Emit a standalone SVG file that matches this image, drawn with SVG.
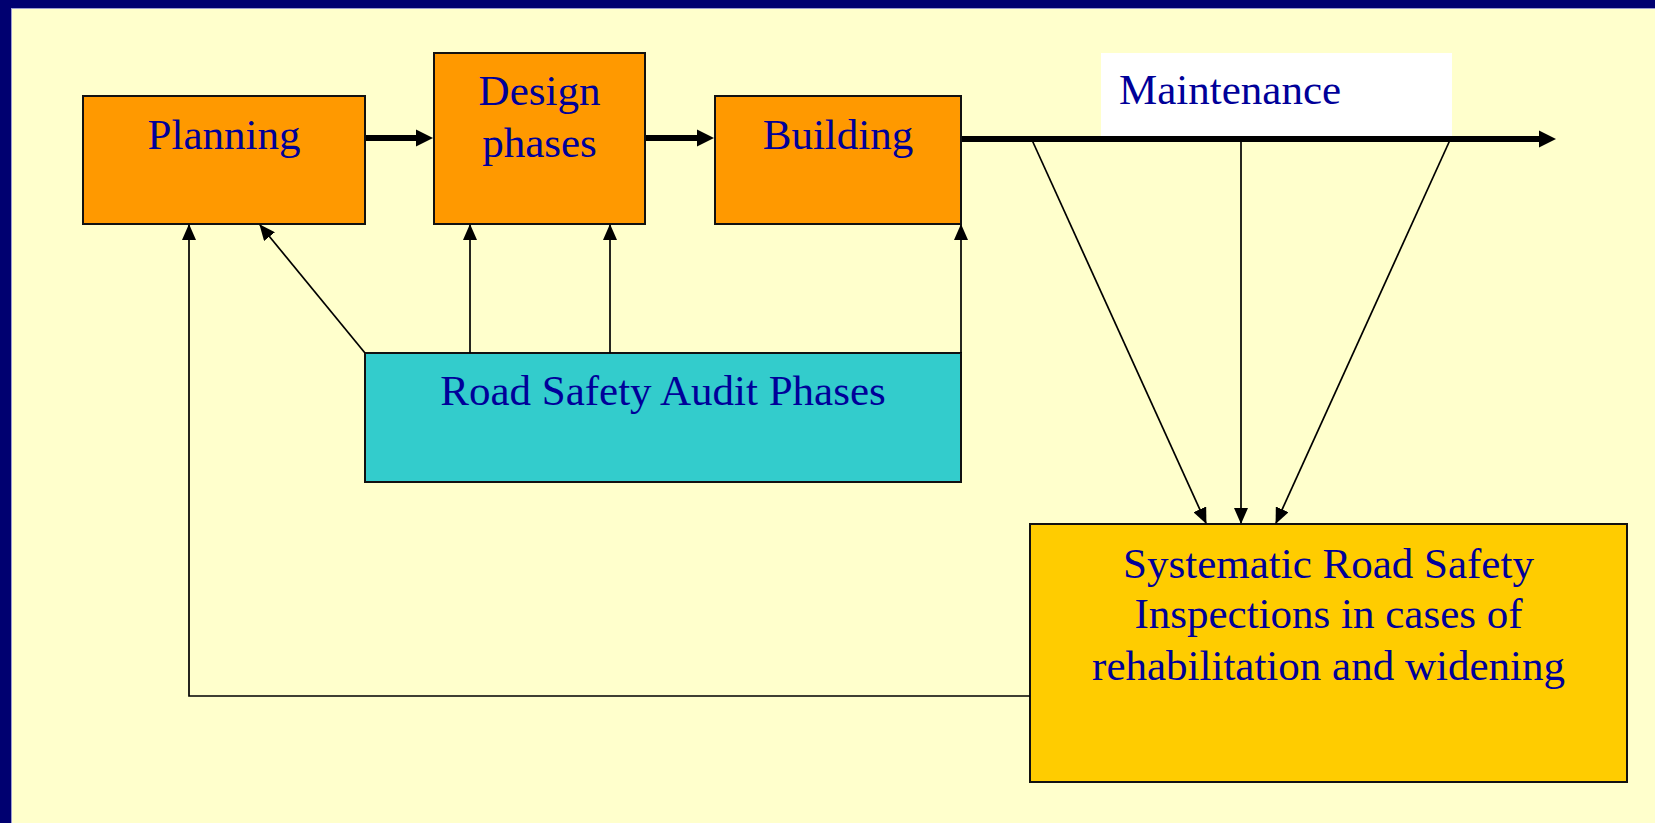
<svg xmlns="http://www.w3.org/2000/svg" width="1655" height="823" viewBox="0 0 1655 823">
  <style>
    .box { stroke: #111; stroke-width: 2; }
    .lbl { font-family: "Liberation Serif", "Times New Roman", serif; font-size: 43px; fill: #000099; }
    .mid { text-anchor: middle; }
    .thin { fill: none; stroke: #000; stroke-width: 1.7; marker-end: url(#arrowThin); }
    .thick { fill: none; stroke: #000; stroke-width: 6; marker-end: url(#arrowThick); }
  </style>
  <defs>
    <marker id="arrowThin" markerUnits="userSpaceOnUse" markerWidth="16" markerHeight="14" refX="15" refY="7" orient="auto">
      <path d="M0,0 L16,7 L0,14 Z" fill="#000"/>
    </marker>
    <marker id="arrowThick" markerUnits="userSpaceOnUse" markerWidth="18" markerHeight="18" refX="7" refY="9" orient="auto">
      <path d="M0,0.5 L17,9 L0,17.5 Z" fill="#000"/>
    </marker>
  </defs>

  <!-- slide frame -->
  <rect x="0" y="0" width="1655" height="823" fill="#000070"/>
  <rect x="11" y="8" width="1644" height="815" fill="#9C9CD0"/>
  <rect x="12" y="9" width="1643" height="814" fill="#FFFFCC"/>

  <!-- Maintenance label backdrop -->
  <g id="maintenance">
    <rect x="1101" y="53" width="351" height="84" fill="#FFFFFF"/>
    <text class="lbl" x="1119" y="104">Maintenance</text>
  </g>

  <g id="planning">
    <rect class="box" x="83" y="96" width="282" height="128" fill="#FF9900"/>
    <text class="lbl mid" x="224" y="149">Planning</text>
  </g>

  <g id="design">
    <rect class="box" x="434" y="53" width="211" height="171" fill="#FF9900"/>
    <text class="lbl mid" x="539.5" y="105">Design</text>
    <text class="lbl mid" x="539.5" y="157">phases</text>
  </g>

  <g id="building">
    <rect class="box" x="715" y="96" width="246" height="128" fill="#FF9900"/>
    <text class="lbl mid" x="838" y="149">Building</text>
  </g>

  <g id="audit">
    <rect class="box" x="365" y="353" width="596" height="129" fill="#33CCCC"/>
    <text class="lbl mid" x="663" y="405">Road Safety Audit Phases</text>
  </g>

  <g id="inspections">
    <rect class="box" x="1030" y="524" width="597" height="258" fill="#FFCC00"/>
    <text class="lbl mid" x="1328.5" y="578">Systematic Road Safety</text>
    <text class="lbl mid" x="1328.5" y="628">Inspections in cases of</text>
    <text class="lbl mid" x="1328.5" y="680">rehabilitation and widening</text>
  </g>

  <g id="connectors">
    <!-- main sequence -->
    <line class="thick" x1="366" y1="138" x2="423" y2="138"/>
    <line class="thick" x1="646" y1="138" x2="704" y2="138"/>
    <line class="thick" x1="962" y1="139" x2="1546" y2="139"/>
    <!-- maintenance to inspections -->
    <line class="thin" x1="1032" y1="140" x2="1206" y2="523"/>
    <line class="thin" x1="1241" y1="140" x2="1241" y2="523"/>
    <line class="thin" x1="1450" y1="140" x2="1276" y2="523"/>
    <!-- inspections feed back to planning -->
    <polyline class="thin" points="1030,696 189,696 189,225"/>
    <!-- audit phases -->
    <line class="thin" x1="365" y1="353" x2="260" y2="225"/>
    <line class="thin" x1="470" y1="353" x2="470" y2="225"/>
    <line class="thin" x1="610" y1="353" x2="610" y2="225"/>
    <line class="thin" x1="961" y1="353" x2="961" y2="225"/>
  </g>
</svg>
